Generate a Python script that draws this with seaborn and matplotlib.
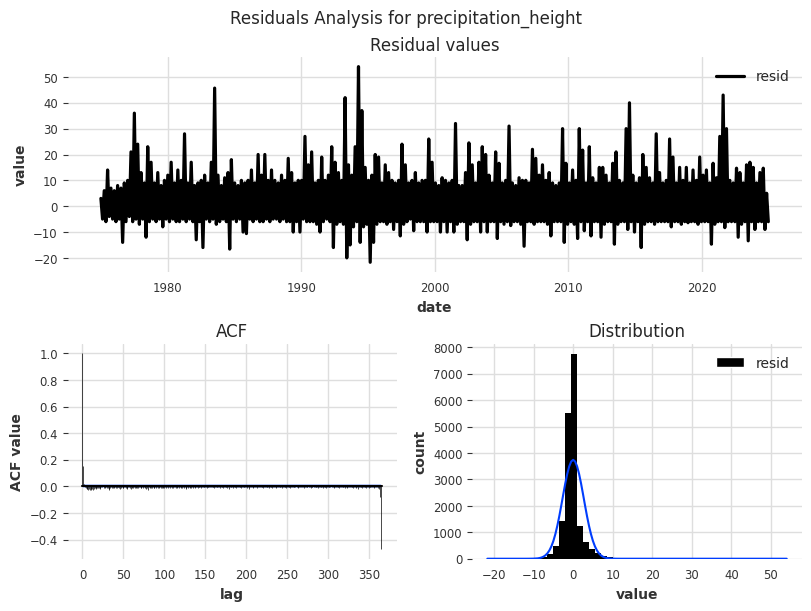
import numpy as np
import pandas as pd
import matplotlib
matplotlib.use("Agg")
import matplotlib.pyplot as plt
import matplotlib.patches as mpatches
from matplotlib.ticker import MaxNLocator
import seaborn as sns

# ---------------- data ----------------
series_name = "resid"
target_name = "precipitation_height"
series_start = "1975-01-01"
series_end = "2024-12-31"

# quarterly upper envelope (peaks) of the residuals, 1975..2024, 4 per year
resid_upper = [
    3, 6, 14, 7,      6, 8, 7, 9,       10, 21, 36, 24,   13, 9, 23, 17,    9, 13, 8, 10,
    12, 17, 9, 14,    10, 28, 9, 17,    8, 9, 10, 12,     9, 17, 45.7, 12,  8, 11, 13, 18,
    9, 8, 10, 9,      10, 14, 9, 20,    12, 20, 10, 14,   10, 9, 12, 10,    18.5, 13, 9, 10,
    10, 27, 16, 21,   9, 10, 19, 10,    12, 23, 17, 13,   10, 42, 16, 12,   23, 54, 37, 15,
    10, 12, 20, 19,   9, 16, 13, 10,    9, 10, 24, 16,    9, 10, 13, 9,     10, 10, 26, 17,
    9, 8, 11, 10,     9, 10, 32, 8,     8, 13, 24.5, 16,  9, 17, 23, 20,    12, 9, 21, 16.6,
    9, 10, 31, 9,     8, 11, 10, 10,    9, 22, 18.5, 12,  16, 10, 13, 9,    8, 9, 30, 16.6,
    9, 14, 10, 30,    21.7, 9, 23, 11,  9, 15, 15, 12,    9, 16.6, 21, 10,  9, 30, 40, 12,
    9, 11, 20, 15,    11, 9, 28, 13,    9, 10, 26, 19,    9, 15, 10, 15,    9, 14, 10, 19,
    12, 14, 9, 16.6,  11, 27, 43, 30,   10, 9, 14.7, 13,  9, 16, 17, 15,    9, 13, 14.7, 5,
]
# quarterly lower envelope (troughs) of the residuals
resid_lower = [
    -5, -6, -4, -5,      -6, -5, -14, -6,     -4, -6, -5, -7,      -5, -12, -6, -5,     -6, -5, -8, -5,
    -6, -5, -6, -6,      -5, -6, -5, -6,      -13, -6, -16, -5,    -6, -5, -7, -6,      -5, -6, -16.6, -5,
    -6, -5, -10, -10.6,  -5, -6, -5, -6,      -6, -5, -6, -5,      -5, -6, -5, -6,      -6, -10, -6, -10,
    -5, -6, -6, -6,      -7, -10, -6, -5,     -6, -16, -7, -6,     -7, -20, -15, -8,    -6, -14, -8, -7,
    -21.7, -14, -7, -6,  -6, -7, -6, -9,      -6, -11.5, -7, -6,   -5, -9.5, -6, -6,    -6, -10, -6, -6,
    -6, -10, -6, -10,    -6, -10, -7, -6,     -6, -13, -7, -6,     -6, -10, -6, -10,    -6, -6, -12.5, -6,
    -7, -6, -7.5, -6,    -6, -7, -15.5, -6,   -6, -7, -6, -6,      -6, -7, -11.5, -6,   -6, -6, -14, -7,
    -6, -7, -12.5, -6,   -9.5, -6, -11.5, -6, -6, -12, -7, -6,     -6, -14.7, -7, -6,   -6, -9, -6, -10,
    -6, -16, -7, -6,     -6, -7, -6, -6,      -6, -6, -8, -6,      -6, -7, -6, -6.4,    -6, -6, -7, -6,
    -6, -6, -14.7, -7,   -6, -6, -8.3, -6,    -6, -6, -12, -7,     -6, -13.4, -6, -9,   -6, -6, -9, -6,
]

# autocorrelation values (in thousandths) for lags 0..365
acf_milli = [
    1000, 150, 18, -4, -12, -16, -20, -24, -22, -28, -20, -24, -18, -26, -20, -14, -12, -18, -10, -14,
    -12, -10, -16, -6, -4, 12, -10, -12, -6, -8, -14, -10, -24, -17, -12, -6, -10, -14, -8, -12,
    -5, -10, -14, -8, -4, -12, -16, -9, -6, -11, -14, -5, -8, -12, -10, -17, -6, -4, -14, -22,
    -10, -8, -12, -5, -14, -9, -6, -11, -13, -8, -4, -10, -12, -6, -14, -8, -5, -11, -20, -9,
    -24, -8, -12, -6, -10, -14, -5, -9, -11, -4, -12, -8, -10, -13, -6, -5, -11, -9, -14, -8,
    -10, -6, -12, -5, 5, -11, -8, -14, -4, -9, 10, -10, -8, -5, -12, -6, -10, -4, -11, -8,
    -9, -5, -12, -6, -10, -8, -14, -16, -4, -11, -6, -9, -5, -10, -8, -12, -4, -6, -10, -5,
    -6, -9, -3, -7, -5, -10, -4, -6, -8, -3, -7, -5, -9, -4, -6, -3, -8, -5, -7, -4,
    -6, -10, -3, -5, -8, -4, -7, -6, -9, -3, -5, -8, -12, -4, -6, -7, -3, -9, -5, -20,
    -6, -4, -8, -5, -10, -3, -7, -6, -9, -4, -5, -8, -3, -6, -11, -4, -7, -5, -8, -3,
    -6, -9, -4, -7, -16, -5, -8, -3, -6, -10, -4, -7, -5, -9, 6, -6, -3, -8, -5, -7,
    -4, -10, -6, -3, -8, -5, -7, -4, -9, -6, -3, -8, -12, -5, -7, -4, -6, -10, -3, -5,
    -8, -4, -7, -6, -9, -3, -5, -8, -4, -10, -6, -3, -7, -5, -9, -4, -6, -8, -3, -7,
    -5, 5, -4, -6, -9, -3, -8, -5, -7, 6, -4, -10, -6, -3, -8, -5, 4, -7, -4, -9,
    -6, -3, 10, -5, -8, -4, -7, -6, -9, -3, -5, -8, -4, -6, -12, -3, -7, -5, -9, -4,
    -6, -3, -8, -5, 12, -7, -4, -9, -6, -3, -8, -5, -7, -4, -10, -6, -3, -8, -5, -7,
    -4, -9, -6, -3, -15, -5, -7, -4, -8, -6, -3, -9, -5, -7, -4, -10, -6, -18, -8, -5,
    -7, -4, -9, -6, -3, -8, -5, -12, -4, -6, -9, -3, -7, -5, -8, -4, -6, -10, -3, -5,
    -8, -12, -6, -20, -80, -470,
]
acf_conf = 0.0148  # half-width of the confidence band

# histogram of residuals: 50 bins between min and max
hist_min = -21.7
hist_max = 54.0
hist_counts = [
    1, 1, 0, 1, 2, 3, 4, 10, 25, 75,
    175, 475, 1410, 5510, 7750, 1250, 625, 360, 200, 110,
    75, 40, 22, 12, 8, 6, 5, 4, 3, 3,
    2, 2, 1, 1, 1, 1, 0, 1, 0, 1,
    0, 1, 0, 0, 1, 0, 0, 0, 0, 1,
]
# fitted normal curve (scaled to counts)
curve_x = [-21.7, -13, -12, -11, -10, -9, -8.5, -8, -7.5, -7, -6.5, -6, -5.5, -5, -4.5, -4,
           -3.5, -3, -2.5, -2, -1.5, -1, -0.5, 0, 0.5, 1, 1.5, 2, 2.5, 3, 3.5, 4, 4.5, 5,
           5.5, 6, 6.5, 7, 7.5, 8, 8.5, 9, 10, 11, 12, 13, 54.0]
curve_y = [0, 0, 0, 1, 4, 14, 26, 46, 79, 130, 206, 317, 470, 673, 933, 1248,
           1614, 2017, 2436, 2843, 3206, 3492, 3676, 3740, 3676, 3492, 3206, 2843, 2436, 2017, 1614, 1248, 933, 673,
           470, 317, 206, 130, 79, 46, 26, 14, 4, 1, 0, 0, 0]

# ---------------- style ----------------
sns.set_theme(style="whitegrid")
plt.rcParams.update({
    "font.family": ["DejaVu Sans"],
    "axes.facecolor": "white",
    "figure.facecolor": "white",
    "axes.grid": True,
    "grid.color": "#dedede",
    "grid.linewidth": 1.0,
    "axes.spines.top": False,
    "axes.spines.right": False,
    "axes.spines.bottom": False,
    "axes.spines.left": False,
    "axes.labelweight": "bold",
    "axes.labelcolor": "#333333",
    "axes.labelsize": 10,
    "axes.titlesize": 12,
    "axes.titlepad": 5.0,
    "figure.titlesize": 12,
    "xtick.labelsize": 8.33,
    "ytick.labelsize": 8.33,
    "xtick.color": "#333333",
    "ytick.color": "#333333",
    "ytick.left": True,
    "xtick.bottom": True,
    "xtick.major.size": 3.5,
    "ytick.major.size": 3.5,
    "ytick.major.width": 0.8,
    "legend.frameon": False,
    "legend.fontsize": 10,
})

# ---------------- figure ----------------
fig = plt.figure(figsize=(8, 6), dpi=100, layout="constrained")
gs = fig.add_gridspec(2, 2)
ax1 = fig.add_subplot(gs[:1, :])
ax2 = fig.add_subplot(gs[1:, 1:])
ax3 = fig.add_subplot(gs[1:, :1])

# residual series: alternate the upper and lower envelope points
values = []
for u, l in zip(resid_upper, resid_lower):
    values.extend([u, l])
dates = pd.date_range(series_start, series_end, periods=len(values))
df = pd.DataFrame({"date": dates, "value": values})
sns.lineplot(data=df, x="date", y="value", ax=ax1, color="black", linewidth=2.3,
             label=series_name)
ax1.set_title("Residual values")
ax1.set_xlabel("date")
ax1.set_ylabel("value")
ax1.legend(loc="upper right")

# ACF
acf = np.array(acf_milli) / 1000.0
lags = np.arange(len(acf))
ax3.vlines(lags, 0, acf, colors="black", linewidth=0.5)
band = np.full(len(acf) - 1, acf_conf)
ax3.fill_between(lags[1:], band, -band, color="#003DFD", alpha=0.25, linewidth=0)
ax3.plot((0, len(acf)), (0, 0), color="black", linewidth=1.5)
ax3.set_title("ACF")
ax3.set_xlabel("lag")
ax3.set_ylabel("ACF value")

# Distribution
edges = np.linspace(hist_min, hist_max, len(hist_counts) + 1)
centers = (edges[:-1] + edges[1:]) / 2
hist_df = pd.DataFrame({"value": centers, "count": hist_counts})
sns.histplot(data=hist_df, x="value", weights="count", bins=list(edges), ax=ax2,
             color="black", alpha=1.0, linewidth=0)
curve_df = pd.DataFrame({"x": curve_x, "y": curve_y})
sns.lineplot(data=curve_df, x="x", y="y", ax=ax2, color="#003DFD", linewidth=1.5, sort=False)
ax2.yaxis.set_major_locator(MaxNLocator(integer=True))
ax2.set_title("Distribution")
ax2.set_ylabel("count")
ax2.set_xlabel("value")
ax2.legend(handles=[mpatches.Patch(facecolor="black", label=series_name)], loc="upper right")

# x tick marks take their space but are not drawn
for ax in (ax1, ax2, ax3):
    ax.tick_params(axis="x", color=(1, 1, 1, 0))

fig.suptitle(f"Residuals Analysis for {target_name}")
fig.savefig("out.png", dpi=100, facecolor="white", bbox_inches="tight", pad_inches=0.1)
